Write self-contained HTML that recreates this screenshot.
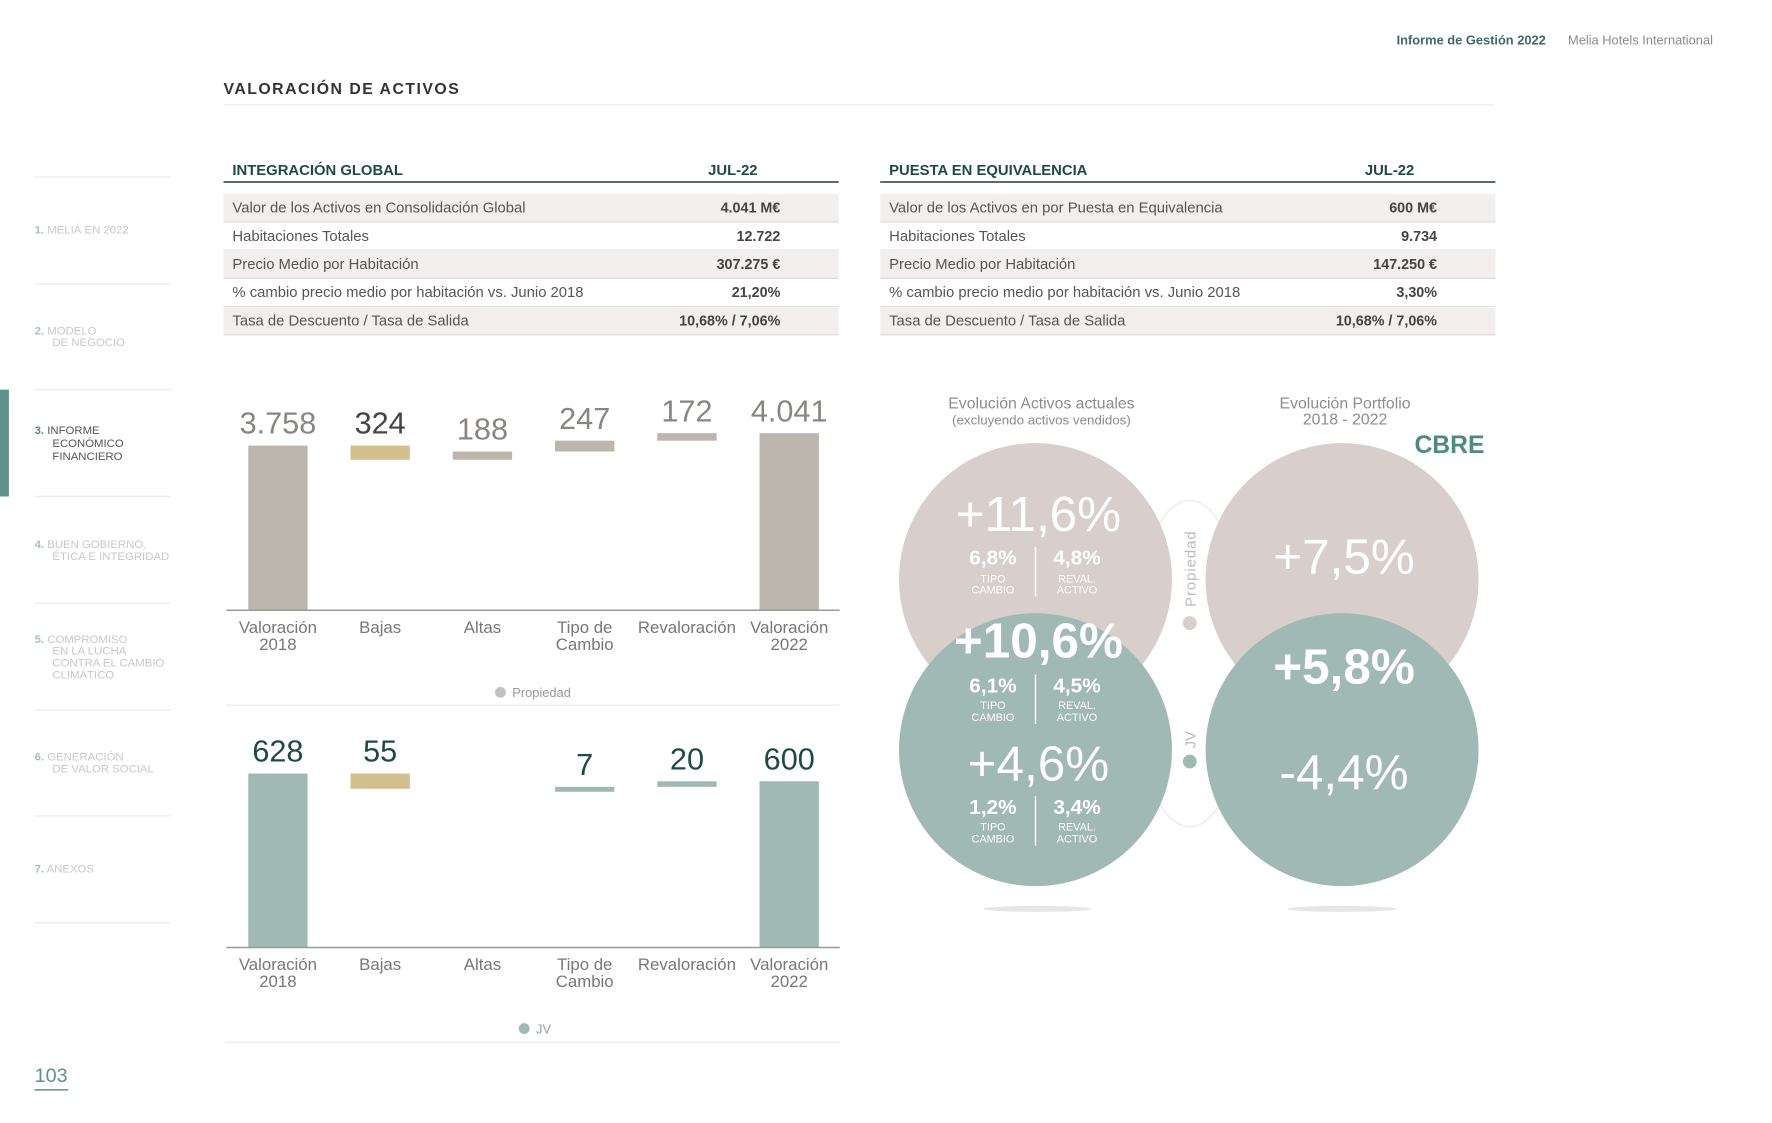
<!DOCTYPE html>
<html><head><meta charset="utf-8"><style>
html,body{margin:0;padding:0;background:#fff;}
svg{display:block;font-family:"Liberation Sans",sans-serif;}
</style></head><body>
<svg id="pg" width="1772" height="1123" viewBox="0 0 1791.7 1135.5" preserveAspectRatio="none" xmlns="http://www.w3.org/2000/svg">
<!-- header -->
<text x="1563" y="45" text-anchor="end" font-size="13" font-weight="bold" fill="#3d6b63">Informe de Gestión 2022</text>
<text x="1732" y="45" text-anchor="end" font-size="13" fill="#8a8a8a">Melia Hotels International</text>
<text x="226" y="95" font-size="16" font-weight="bold" letter-spacing="1.5" fill="#333">VALORACIÓN DE ACTIVOS</text>
<line x1="226" y1="106" x2="1511" y2="106" stroke="#eee" stroke-width="1.5"/>

<!-- sidebar -->
<g font-size="11.5" fill="#c8c8c8">
<g stroke="#eee" stroke-width="1.5">
<line x1="35" y1="179" x2="173" y2="179"/><line x1="35" y1="287" x2="173" y2="287"/><line x1="35" y1="394" x2="173" y2="394"/><line x1="35" y1="502" x2="173" y2="502"/><line x1="35" y1="610" x2="173" y2="610"/><line x1="35" y1="718" x2="173" y2="718"/><line x1="35" y1="825" x2="173" y2="825"/><line x1="35" y1="933" x2="173" y2="933"/>
</g>
<rect x="0" y="394" width="9" height="108" fill="#5d9189"/>
<g><text x="35" y="236"><tspan font-weight="bold" fill="#a9c1bd">1.</tspan> MELIÁ EN 2022</text></g>
<g><text x="35" y="338"><tspan font-weight="bold" fill="#a9c1bd">2.</tspan> MODELO</text><text x="53" y="350">DE NEGOCIO</text></g>
<g fill="#555"><text x="35" y="439"><tspan font-weight="bold" fill="#4f8a80">3.</tspan> INFORME</text><text x="53" y="452">ECONÓMICO</text><text x="53" y="465">FINANCIERO</text></g>
<g><text x="35" y="554"><tspan font-weight="bold" fill="#a9c1bd">4.</tspan> BUEN GOBIERNO,</text><text x="53" y="566">ÉTICA E INTEGRIDAD</text></g>
<g><text x="35" y="650"><tspan font-weight="bold" fill="#a9c1bd">5.</tspan> COMPROMISO</text><text x="53" y="662">EN LA LUCHA</text><text x="53" y="674">CONTRA EL CAMBIO</text><text x="53" y="686">CLIMÁTICO</text></g>
<g><text x="35" y="769"><tspan font-weight="bold" fill="#a9c1bd">6.</tspan> GENERACIÓN</text><text x="53" y="781">DE VALOR SOCIAL</text></g>
<g><text x="35" y="882"><tspan font-weight="bold" fill="#a9c1bd">7.</tspan> ANEXOS</text></g>
</g>
<text x="35" y="1094" font-size="20" fill="#5d9189">103</text>
<line x1="35" y1="1102" x2="69" y2="1102" stroke="#5d9189" stroke-width="1.5"/>

<g id="tables"></g>
<g id="charts"></g>

<!-- circles -->
<g>
<text x="1053" y="413" text-anchor="middle" font-size="16" fill="#8c8c8c">Evolución Activos actuales</text>
<text x="1053" y="429" text-anchor="middle" font-size="13.5" fill="#8c8c8c">(excluyendo activos vendidos)</text>
<text x="1360" y="413" text-anchor="middle" font-size="16" fill="#8c8c8c">Evolución Portfolio</text>
<text x="1360" y="429" text-anchor="middle" font-size="16" fill="#8c8c8c">2018 - 2022</text>
<text x="1501" y="458" text-anchor="end" font-size="25" font-weight="bold" fill="#4f8a80">CBRE</text>
<ellipse cx="1203" cy="671" rx="60" ry="165" fill="none" stroke="#f0f0f0" stroke-width="2"/>
<ellipse cx="1049" cy="919" rx="55" ry="3" fill="#e6e6e6"/>
<ellipse cx="1357" cy="919" rx="55" ry="3" fill="#e6e6e6"/>
<circle cx="1047" cy="586" r="138" fill="#d8cfcd"/>
<circle cx="1357" cy="586" r="138" fill="#d8cfcd"/>
<circle cx="1047" cy="758" r="138" fill="#a1b9b4"/>
<circle cx="1357" cy="758" r="138" fill="#a1b9b4"/>
<g fill="#fff" text-anchor="middle">
<text x="1050" y="537" font-size="50">+11,6%</text>
<text x="1004" y="571" font-size="21" font-weight="bold">6,8%</text><text x="1089" y="571" font-size="21" font-weight="bold">4,8%</text>
<text x="1004" y="589" font-size="11">TIPO</text><text x="1004" y="600" font-size="11">CAMBIO</text>
<text x="1089" y="589" font-size="11">REVAL.</text><text x="1089" y="600" font-size="11">ACTIVO</text>
<line x1="1047" y1="553" x2="1047" y2="603" stroke="#fff" stroke-width="1.5"/>
<text x="1050" y="665" font-size="50" font-weight="bold">+10,6%</text>
<text x="1004" y="700" font-size="21" font-weight="bold">6,1%</text><text x="1089" y="700" font-size="21" font-weight="bold">4,5%</text>
<text x="1004" y="717" font-size="11">TIPO</text><text x="1004" y="729" font-size="11">CAMBIO</text>
<text x="1089" y="717" font-size="11">REVAL.</text><text x="1089" y="729" font-size="11">ACTIVO</text>
<line x1="1047" y1="682" x2="1047" y2="732" stroke="#fff" stroke-width="1.5"/>
<text x="1050" y="789" font-size="50">+4,6%</text>
<text x="1004" y="823" font-size="21" font-weight="bold">1,2%</text><text x="1089" y="823" font-size="21" font-weight="bold">3,4%</text>
<text x="1004" y="840" font-size="11">TIPO</text><text x="1004" y="852" font-size="11">CAMBIO</text>
<text x="1089" y="840" font-size="11">REVAL.</text><text x="1089" y="852" font-size="11">ACTIVO</text>
<line x1="1047" y1="805" x2="1047" y2="855" stroke="#fff" stroke-width="1.5"/>
<text x="1359" y="580" font-size="50">+7,5%</text>
<text x="1359" y="691" font-size="50" font-weight="bold">+5,8%</text>
<text x="1359" y="798" font-size="50">-4,4%</text>
</g>
<text transform="translate(1209,575) rotate(-90)" text-anchor="middle" font-size="15" fill="#bbb" letter-spacing="1">Propiedad</text>
<circle cx="1203" cy="630" r="7" fill="#d8cfcd"/>
<text transform="translate(1209,748) rotate(-90)" text-anchor="middle" font-size="15" fill="#bbb">JV</text>
<circle cx="1203" cy="770" r="7" fill="#a1b9b4"/>
</g>
</svg>
<script>
var NS="http://www.w3.org/2000/svg";
function mk(tag,attrs,parent,txt){var e=document.createElementNS(NS,tag);for(var k in attrs)e.setAttribute(k,attrs[k]);if(txt!==undefined)e.textContent=txt;parent.appendChild(e);return e;}

// ---- tables ----
var tableTitles=["INTEGRACIÓN GLOBAL","PUESTA EN EQUIVALENCIA"];
var tableLabelsA=["Valor de los Activos en Consolidación Global","Habitaciones Totales","Precio Medio por Habitación","% cambio precio medio por habitación vs. Junio 2018","Tasa de Descuento / Tasa de Salida"];
var tableValuesA=["4.041 M€","12.722","307.275 €","21,20%","10,68% / 7,06%"];
var tableLabelsB=["Valor de los Activos en por Puesta en Equivalencia","Habitaciones Totales","Precio Medio por Habitación","% cambio precio medio por habitación vs. Junio 2018","Tasa de Descuento / Tasa de Salida"];
var tableValuesB=["600 M€","9.734","147.250 €","3,30%","10,68% / 7,06%"];
var tg=document.getElementById('tables');
[[226,tableLabelsA,tableValuesA],[890,tableLabelsB,tableValuesB]].forEach(function(t,ti){
  var x0=t[0],w=622,g=mk('g',{},tg);
  
  
  mk('text',{x:x0+9,y:177,'font-size':15,'font-weight':'bold',fill:'#1f4a44'},g,tableTitles[ti]);
  mk('text',{x:x0+515,y:177,'text-anchor':'middle','font-size':15,'font-weight':'bold',fill:'#1f4a44'},g,'JUL-22');
  mk('line',{x1:x0,y1:184,x2:x0+w,y2:184,stroke:'#5a6b68','stroke-width':2},g);
  for(var i=0;i<t[1].length;i++){
    var y=196+i*28.5;
    var r=mk('g',{},g);
    
    
    if(i%2==0) mk('rect',{x:x0,y:y,width:w,height:28.5,fill:'#f2efee'},r);
    mk('line',{x1:x0,y1:y+28.5,x2:x0+w,y2:y+28.5,stroke:'#ddd','stroke-width':1.2},r);
    mk('text',{x:x0+9,y:y+19,'font-size':15,fill:'#555'},r,t[1][i]);
    mk('text',{x:x0+563,y:y+19,'text-anchor':'end','font-size':14.5,'font-weight':'bold',fill:'#444'},r,t[2][i]);
  }
});

// ---- waterfall charts ----
var categories=["Valoración|2018","Bajas","Altas","Tipo de|Cambio","Revaloración","Valoración|2022"];
var propValues=[3758,-324,188,247,172,4041];
var propLabels=["3.758","324","188","247","172","4.041"];
var jvValues=[628,-55,0,7,20,600];
var jvLabels=["628","55","","7","20","600"];
var cg=document.getElementById('charts');
function drawChart(vals,labels,base,scale,col,name,legend,legY,lineY,lblCol,dotCol){
  var g=mk('g',{},cg);
  
  
  function xc(i){return 281+i*103.4;}
  function y(v){return base-v*scale;}
  var cum=0;
  for(var i=0;i<vals.length;i++){
    var v=vals[i],top,bot,fill=col;
    if(i==0||i==vals.length-1){top=y(v);bot=base;cum=v;}
    else{
      if(v===0)continue;
      var a=cum,b=cum+v;cum=b;
      top=y(Math.max(a,b));bot=y(Math.min(a,b));
      if(bot-top<5)bot=top+5;
      if(v<0)fill='#d4bf8e';
    }
    var r=mk('rect',{x:xc(i)-30,y:top,width:60,height:bot-top,fill:fill},g);
    
    
    var t=mk('text',{x:xc(i),y:top-12,'text-anchor':'middle','font-size':31,fill:(v<0&&name=='propiedad-chart')?'#444':lblCol},g,labels[i]);
    
    
  }
  mk('line',{x1:229,y1:base,x2:849,y2:base,stroke:'#999','stroke-width':1.5},g);
  for(var j=0;j<categories.length;j++){
    var parts=categories[j].split('|');
    for(var k=0;k<parts.length;k++){
      var c=mk('text',{x:xc(j),y:base+23+k*17,'text-anchor':'middle','font-size':17,fill:'#777'},g,parts[k]);
      
      
    }
  }
  var lg=mk('g',{},g);
  
  
  mk('circle',{cx:legend[0],cy:legY-4,r:5.5,fill:dotCol},lg);
  mk('text',{x:legend[0]+12,y:legY+1,'font-size':13,fill:'#999'},lg,legend[1]);
  mk('line',{x1:228,y1:lineY,x2:849,y2:lineY,stroke:'#eee','stroke-width':1.5},g);
}
drawChart(propValues,propLabels,617,0.0443,'#bdb6ae','propiedad-chart',[506,'Propiedad'],704,713,'#8a8583','#c2c2c2');
drawChart(jvValues,jvLabels,958,0.28,'#a1b9b4','jv-chart',[530,'JV'],1044,1054,'#1f4a44','#a1b9b4');
</script>
</body></html>
